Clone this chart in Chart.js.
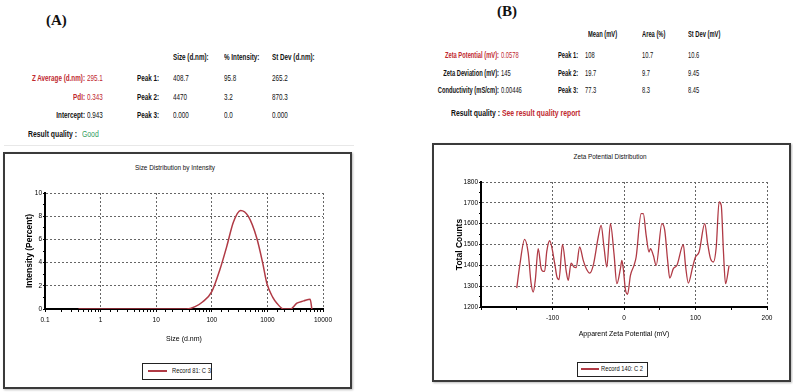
<!DOCTYPE html>
<html>
<head>
<meta charset="utf-8">
<script src="https://cdn.jsdelivr.net/npm/chart.js@4.4.0/dist/chart.umd.min.js"></script>
<style>
  body { margin: 0; background: #fff; width: 793px; height: 392px; overflow: hidden; position: relative;
         font-family: 'Liberation Sans', Arial, sans-serif; color: #111; }
  .t { position: absolute; font-size: 9px; line-height: 11px; white-space: nowrap; transform: scaleX(0.7); transform-origin: left center; }
  .b { font-weight: bold; }
  .red { color: #c0282e; }
  .r { text-align: right; transform-origin: right center; }
  .nb { transform: scaleX(0.64); }
  .q { font-size: 9.5px; line-height: 12px; transform: scaleX(0.72); }
  .tag { position: absolute; font-family: 'Liberation Serif', serif; font-weight: bold; font-size: 15px; line-height: 16px; }
  .box { position: absolute; border: 2px solid #3a3a3a; box-shadow: 1px 1px 2px #bbb; }
  .ctitle { position: absolute; font-size: 7.5px; line-height: 9px; text-align: center; transform: scaleX(0.85); }
  .legend { position: absolute; border: 1.5px solid #222; font-size: 7.5px; line-height: 12px; white-space: nowrap; }
  .legend i { position: absolute; height: 1.5px; background: #b03a45; top: 6px; }
  .legend span { position: absolute; transform: scaleX(0.77); transform-origin: left center; }
  canvas { position: absolute; }
</style>
</head>
<body>

<!-- panel A header -->
<div class="tag" style="left:46px;top:12px">(A)</div>
<div style="position:absolute;left:4px;top:145px;width:350px;height:1px;background:#e8e8e8"></div>
<div class="t b" style="left:173px;top:51.5px">Size (d.nm):</div>
<div class="t b" style="left:224px;top:51.5px">% Intensity:</div>
<div class="t b" style="left:272px;top:51.5px">St Dev (d.nm):</div>

<div class="t r red b" style="left:0;width:85px;top:72.5px">Z Average (d.nm):</div>
<div class="t red" style="left:87px;top:72.5px">295.1</div>
<div class="t r red b" style="left:0;width:85px;top:91.5px">PdI:</div>
<div class="t red" style="left:87px;top:91.5px">0.343</div>
<div class="t r b" style="left:0;width:85px;top:109.5px">Intercept:</div>
<div class="t" style="left:87px;top:109.5px">0.943</div>
<div class="t b q" style="left:28px;top:128px">Result quality :</div>
<div class="t q" style="left:82px;top:128px;color:#2e9e5e">Good</div>

<div class="t b" style="left:137px;top:72.5px">Peak 1:</div>
<div class="t" style="left:173px;top:72.5px">408.7</div>
<div class="t" style="left:224px;top:72.5px">95.8</div>
<div class="t" style="left:272px;top:72.5px">265.2</div>
<div class="t b" style="left:137px;top:91.5px">Peak 2:</div>
<div class="t" style="left:173px;top:91.5px">4470</div>
<div class="t" style="left:224px;top:91.5px">3.2</div>
<div class="t" style="left:272px;top:91.5px">870.3</div>
<div class="t b" style="left:137px;top:109.5px">Peak 3:</div>
<div class="t" style="left:173px;top:109.5px">0.000</div>
<div class="t" style="left:224px;top:109.5px">0.0</div>
<div class="t" style="left:272px;top:109.5px">0.000</div>

<!-- panel B header -->
<div class="tag" style="left:497px;top:3px">(B)</div>
<div class="t b nb" style="left:588px;top:28.5px">Mean (mV)</div>
<div class="t b nb" style="left:642px;top:28.5px">Area (%)</div>
<div class="t b nb" style="left:688px;top:28.5px">St Dev (mV)</div>

<div class="t r red b nb" style="left:380px;width:119px;top:49.5px">Zeta Potential (mV):</div>
<div class="t red nb" style="left:501px;top:49.5px">0.0578</div>
<div class="t r b nb" style="left:380px;width:119px;top:67.5px">Zeta Deviation (mV):</div>
<div class="t nb" style="left:501px;top:67.5px">145</div>
<div class="t r b nb" style="left:380px;width:119px;top:84.5px">Conductivity (mS/cm):</div>
<div class="t nb" style="left:501px;top:84.5px">0.00446</div>
<div class="t b q" style="left:451px;top:107px">Result quality :</div>
<div class="t red b q" style="left:502px;top:107px">See result quality report</div>

<div class="t b nb" style="left:558px;top:49.5px">Peak 1:</div>
<div class="t nb" style="left:585px;top:49.5px">108</div>
<div class="t nb" style="left:642px;top:49.5px">10.7</div>
<div class="t nb" style="left:688px;top:49.5px">10.6</div>
<div class="t b nb" style="left:558px;top:67.5px">Peak 2:</div>
<div class="t nb" style="left:585px;top:67.5px">19.7</div>
<div class="t nb" style="left:642px;top:67.5px">9.7</div>
<div class="t nb" style="left:688px;top:67.5px">9.45</div>
<div class="t b nb" style="left:558px;top:84.5px">Peak 3:</div>
<div class="t nb" style="left:585px;top:84.5px">77.3</div>
<div class="t nb" style="left:642px;top:84.5px">8.3</div>
<div class="t nb" style="left:688px;top:84.5px">8.45</div>

<!-- chart boxes -->
<div class="box" style="left:3px;top:152px;width:345px;height:233px"></div>
<div class="box" style="left:432px;top:143px;width:355px;height:235px"></div>

<div class="ctitle" style="left:100px;width:150px;top:163px">Size Distribution by Intensity</div>
<div class="ctitle" style="left:535px;width:150px;top:152px">Zeta Potential Distribution</div>

<canvas id="chartA" width="345" height="165" style="left:3px;top:185px"></canvas>
<canvas id="chartB" width="352" height="178" style="left:436px;top:172px"></canvas>

<div class="legend" style="left:142px;top:363px;width:68px;height:15px">
  <i style="left:5px;width:19px"></i><span style="left:29px;top:1px">Record 81: C 3</span>
</div>
<div class="legend" style="left:577px;top:362px;width:69px;height:13px">
  <i style="left:3px;width:18px;top:5px"></i><span style="left:23px;top:0px">Record 140: C 2</span>
</div>

<script>
// size distribution (A)
const sizeNm = [0.4, 0.6, 1, 2, 5, 10, 20, 35, 50, 68, 100, 140, 186, 245, 330, 452, 645, 820, 980, 1250, 1480, 1950, 2590, 3390, 4500, 5880, 6300];
const intensityPct = [0, 0, 0, 0, 0, 0, 0, 0, 0.2, 0.6, 1.5, 3.4, 5.4, 7.5, 8.5, 8.0, 6.1, 4.0, 2.2, 1.0, 0.5, 0, 0, 0.5, 0.7, 0.85, 0];
const sizeTickLabels = [0.1, 1, 10, 100, 1000, 10000];

// zeta potential distribution (B)
const zetaMv = [-150, -146, -139, -134, -130, -127, -124, -120, -116, -113, -111, -108, -104, -97, -94, -91, -86, -81, -78, -74,
  -70, -67, -62, -57, -52, -48, -43, -36, -32, -28, -24, -19, -14, -10, -5, -3, -1, 2, 5, 9,
  14, 17, 24, 27, 31, 35, 37, 41, 45, 53, 57, 61, 64, 69, 74, 83, 86, 90, 96, 100,
  105, 113, 117, 121, 125, 129, 133, 136, 139, 142, 147];
const totalCounts = [1291, 1395, 1525, 1460, 1316, 1272, 1331, 1480, 1387, 1371, 1371, 1467, 1518, 1411, 1347, 1331, 1500, 1376, 1328, 1411,
  1392, 1389, 1488, 1424, 1379, 1363, 1400, 1536, 1592, 1488, 1392, 1600, 1456, 1312, 1384, 1424, 1384, 1283, 1261, 1352,
  1400, 1440, 1648, 1648, 1544, 1464, 1480, 1448, 1400, 1600, 1568, 1424, 1339, 1384, 1400, 1499, 1400, 1315, 1392, 1440,
  1464, 1600, 1504, 1432, 1416, 1488, 1704, 1688, 1472, 1312, 1400];
const zetaTickLabels = [-100, 0, 100, 200];

const LINE = '#b03a45';
const GRID = '#666';
const NONE = 'rgba(0,0,0,0)';
const FONT = "'Liberation Sans', Arial, sans-serif";
const tickFont = { family: FONT, size: 6.5 };
const axisTitleFont = { family: FONT, size: 7 };
const yTitleFont = { family: FONT, size: 8.5, weight: 'bold' };

function isDecade(v) {
    const l = Math.log10(v);
    return Math.abs(l - Math.round(l)) < 1e-6;
}

function points(xs, ys) {
    return xs.map((x, i) => ({ x: x, y: ys[i] }));
}

new Chart(document.getElementById('chartA'), {
    type: 'line',
    data: {
        datasets: [{
            data: points(sizeNm, intensityPct),
            borderColor: LINE,
            borderWidth: 1.5,
            pointRadius: 0,
            cubicInterpolationMode: 'monotone',
            fill: false
        }]
    },
    options: {
        responsive: false,
        animation: false,
        layout: { padding: { left: 0, right: 25, top: 8, bottom: 0 } },
        plugins: { legend: { display: false }, tooltip: { enabled: false } },
        scales: {
            x: {
                type: 'logarithmic',
                min: 0.1,
                max: 10000,
                afterFit: s => { s.height = 41; },
                grid: {
                    color: c => (isDecade(c.tick.value) && c.tick.value > 0.1) ? GRID : NONE,
                    tickColor: '#000',
                    tickLength: 3
                },
                border: { color: '#000', width: 2, dash: [2, 2] },
                ticks: {
                    autoSkip: false, maxRotation: 0, padding: 4, color: '#000', font: tickFont,
                    callback: v => sizeTickLabels.find(t => Math.abs(t - v) < 1e-9) !== undefined ? String(v) : ''
                },
                title: { display: true, text: 'Size (d.nm)', color: '#000', font: axisTitleFont, padding: { top: 0, bottom: 7 } }
            },
            y: {
                min: 0,
                max: 10,
                afterFit: s => { s.width = 42; },
                grid: {
                    color: c => (c.tick.value > 0 && c.tick.value % 2 === 0) ? GRID : NONE,
                    tickColor: '#000',
                    tickLength: 2
                },
                border: { color: '#000', width: 2, dash: [2, 2] },
                ticks: {
                    stepSize: 1, autoSkip: false, padding: 1, color: '#000', font: tickFont,
                    callback: v => v % 2 === 0 ? String(v) : ''
                },
                title: { display: true, text: 'Intensity (Percent)', color: '#000', font: yTitleFont, padding: { top: 22, bottom: 0 } }
            }
        }
    }
});

new Chart(document.getElementById('chartB'), {
    type: 'line',
    data: {
        datasets: [{
            data: points(zetaMv, totalCounts),
            borderColor: LINE,
            borderWidth: 1.3,
            pointRadius: 0,
            cubicInterpolationMode: 'monotone',
            fill: false
        }]
    },
    options: {
        responsive: false,
        animation: false,
        layout: { padding: { left: 0, right: 21, top: 10, bottom: 0 } },
        plugins: { legend: { display: false }, tooltip: { enabled: false } },
        scales: {
            x: {
                type: 'linear',
                min: -200,
                max: 200,
                afterFit: s => { s.height = 43; },
                grid: {
                    color: c => (c.tick.value > -200 && c.tick.value % 100 === 0) ? GRID : NONE,
                    tickColor: '#000',
                    tickLength: 3
                },
                border: { color: '#000', width: 2, dash: [2, 2] },
                ticks: {
                    stepSize: 50, autoSkip: false, maxRotation: 0, padding: 4, color: '#000', font: tickFont,
                    callback: v => zetaTickLabels.includes(v) ? String(v) : ''
                },
                title: { display: true, text: 'Apparent Zeta Potential (mV)', color: '#000', font: axisTitleFont, padding: { top: 0, bottom: 12 } }
            },
            y: {
                min: 1200,
                max: 1800,
                afterFit: s => { s.width = 45; },
                grid: {
                    color: c => (c.tick.value > 1200 && c.tick.value % 100 === 0) ? GRID : NONE,
                    tickColor: '#000',
                    tickLength: 2
                },
                border: { color: '#000', width: 2, dash: [2, 2] },
                ticks: {
                    stepSize: 50, autoSkip: false, padding: 1, color: '#000', font: tickFont,
                    callback: v => v % 100 === 0 ? String(v) : ''
                },
                title: { display: true, text: 'Total Counts', color: '#000', font: yTitleFont, padding: { top: 19, bottom: 0 } }
            }
        }
    }
});
</script>
</body>
</html>
